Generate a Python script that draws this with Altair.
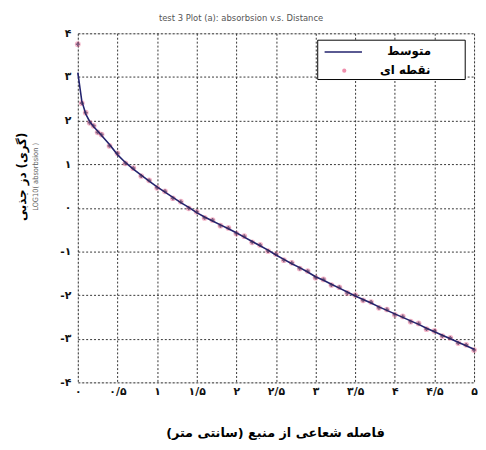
import json
import altair as alt
import pandas as pd

# ---- data -------------------------------------------------------------
dist = [0.0, 0.05, 0.1, 0.15, 0.2, 0.25,
        0.3, 0.4, 0.5, 0.6, 0.7, 0.8, 0.9, 1.0, 1.1, 1.2, 1.3, 1.4, 1.5,
        1.6, 1.7, 1.8, 1.9, 2.0, 2.1, 2.2, 2.3, 2.4, 2.5, 2.6, 2.7, 2.8,
        2.9, 3.0, 3.1, 3.2, 3.3, 3.4, 3.5, 3.6, 3.7, 3.8, 3.9, 4.0, 4.1,
        4.2, 4.3, 4.4, 4.5, 4.6, 4.7, 4.8, 4.9, 5.0]
mean_dose = [3.10, 2.45, 2.15, 1.98, 1.86, 1.76,
             1.66, 1.45, 1.22, 1.04, 0.89, 0.75, 0.61, 0.48, 0.36, 0.24, 0.12, 0.01, -0.11,
             -0.21, -0.30, -0.39, -0.48, -0.57, -0.67, -0.77, -0.87, -0.97, -1.08, -1.18, -1.28, -1.37,
             -1.47, -1.58, -1.66, -1.75, -1.84, -1.93, -2.02, -2.10, -2.18, -2.27, -2.35, -2.43, -2.51,
             -2.59, -2.67, -2.76, -2.84, -2.92, -3.00, -3.08, -3.16, -3.24]
point_dose = [3.75, 2.40, 2.18, 1.95, 1.88, 1.73,
              1.68, 1.42, 1.25, 1.02, 0.91, 0.73, 0.63, 0.46, 0.38, 0.22, 0.14, -0.01, -0.09,
              -0.23, -0.28, -0.41, -0.46, -0.59, -0.65, -0.79, -0.85, -0.99, -1.06, -1.20, -1.26, -1.39,
              -1.45, -1.60, -1.64, -1.77, -1.82, -1.95, -2.00, -2.12, -2.16, -2.29, -2.33, -2.45, -2.49,
              -2.61, -2.65, -2.78, -2.82, -2.94, -2.98, -3.10, -3.14, -3.26]

x_tick_values = [0, 0.5, 1, 1.5, 2, 2.5, 3, 3.5, 4, 4.5, 5]
x_tick_labels = ["۰", "۰/۵", "۱", "۱/۵", "۲", "۲/۵", "۳", "۳/۵", "۴", "۴/۵", "۵"]
y_tick_values = [-4, -3, -2, -1, 0, 1, 2, 3, 4]
y_tick_labels = ["-۴", "-۳", "-۲", "-۱", "۰", "۱", "۲", "۳", "۴"]

legend_names = ["متوسط", "نقطه ای"]
title_text = "test 3 Plot (a): absorbsion v.s. Distance"
x_title = "\u200fفاصله شعاعی از منبع (سانتی متر)\u200f"
y_title = "\u200f(گری) دز جذبی\u200f"
y_subtitle = "LOG10( absorbsion )"

df = pd.DataFrame({"dist": dist, "mean": mean_dose, "pt": point_dose})

W, H = 403, 355
LINE_COLOR = "#23236e"
PT_COLOR = "#e8608a"
FONT = "DejaVu Sans"
NARROW = "Liberation Sans Narrow, DejaVu Sans Condensed, Arial Narrow, Liberation Sans, sans-serif"

x_expr = "%s[round(datum.value*2)]" % json.dumps(x_tick_labels, ensure_ascii=False)
y_expr = "%s[round(datum.value+4)]" % json.dumps(y_tick_labels, ensure_ascii=False)

xscale = alt.Scale(domain=[0, 5], nice=False, zero=False)
yscale = alt.Scale(domain=[-4, 4], nice=False, zero=False)

x_axis = alt.Axis(values=x_tick_values, labelExpr=x_expr, title=None, grid=True,
                  gridDash=[2, 2], gridColor="#333333", gridWidth=1, ticks=False,
                  domain=False, labelFont=FONT, labelFontWeight="bold", labelFontSize=11,
                  labelColor="#111111", labelPadding=3, labelFlush=False, labelOverlap=False)
y_axis = alt.Axis(values=y_tick_values, labelExpr=y_expr, title=None, grid=True,
                  gridDash=[2, 2], gridColor="#333333", gridWidth=1, ticks=False,
                  domain=False, labelFont=FONT, labelFontWeight="bold", labelFontSize=11,
                  labelColor="#111111", labelPadding=7, labelFlush=False, labelOverlap=False)

base = alt.Chart(df)

points = base.mark_point(filled=True, size=34, opacity=0.45, color=PT_COLOR).encode(
    x=alt.X("dist:Q", scale=xscale, axis=x_axis),
    y=alt.Y("pt:Q", scale=yscale, axis=y_axis),
)
line = base.mark_line(color=LINE_COLOR, strokeWidth=1.6).encode(
    x=alt.X("dist:Q", scale=xscale),
    y=alt.Y("mean:Q", scale=yscale),
)
marks = base.mark_point(shape="cross", size=16, filled=True, color="#3a2a55", opacity=0.6).encode(
    x=alt.X("dist:Q", scale=xscale),
    y=alt.Y("pt:Q", scale=yscale),
)

one = alt.Data(values=[{}])

legend_box = alt.Chart(one).mark_rect(fill="white", stroke="black", strokeWidth=1).encode(
    x=alt.value(244), x2=alt.value(394), y=alt.value(7), y2=alt.value(47))
legend_line = alt.Chart(one).mark_rule(color=LINE_COLOR, strokeWidth=1.4).encode(
    x=alt.value(251), x2=alt.value(289), y=alt.value(19))
legend_pt = alt.Chart(one).mark_point(filled=True, size=18, color=PT_COLOR).encode(
    x=alt.value(271), y=alt.value(38))
legend_t1 = alt.Chart(one).mark_text(font=FONT, fontWeight="bold", fontSize=12,
                                     align="center", baseline="middle", color="black").encode(
    x=alt.value(337), y=alt.value(18), text=alt.value(legend_names[0]))
legend_t2 = alt.Chart(one).mark_text(font=FONT, fontWeight="bold", fontSize=12,
                                     align="center", baseline="middle", color="black").encode(
    x=alt.value(333), y=alt.value(37), text=alt.value(legend_names[1]))

title_mark = alt.Chart(one).mark_text(font=NARROW, fontSize=9.5,
                                      align="center", baseline="middle", color="#555555").encode(
    x=alt.value(166), y=alt.value(-16), text=alt.value(title_text))
xtitle_mark = alt.Chart(one).mark_text(font=FONT, fontWeight="bold", fontSize=13,
                                       align="center", baseline="middle", color="black").encode(
    x=alt.value(201), y=alt.value(407), text=alt.value(x_title))
ytitle_mark = alt.Chart(one).mark_text(font=FONT, fontWeight="bold", fontSize=12, angle=270,
                                       align="center", baseline="middle", color="black").encode(
    x=alt.value(-57), y=alt.value(146), text=alt.value(y_title))
ysub_mark = alt.Chart(one).mark_text(font=NARROW, fontSize=7.5, angle=270,
                                     align="center", baseline="middle", color="#666666").encode(
    x=alt.value(-42), y=alt.value(146), text=alt.value(y_subtitle))

chart = alt.layer(
    points, line, marks, legend_box, legend_line, legend_pt, legend_t1, legend_t2,
    title_mark, xtitle_mark, ytitle_mark, ysub_mark,
).properties(
    width=W, height=H,
    padding={"left": 71, "top": 22, "right": 4, "bottom": 63},
    autosize="none",
).configure_view(stroke="black", strokeWidth=1).configure(background="white")

chart.save("out.html", embed_options={"renderer": "svg", "actions": False})
